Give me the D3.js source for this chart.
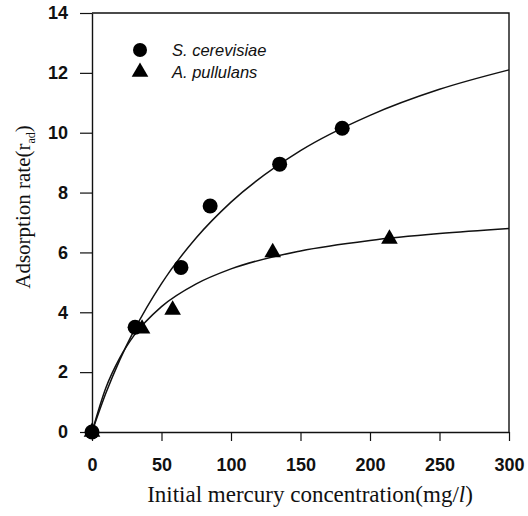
<!DOCTYPE html>
<html>
<head>
<meta charset="utf-8">
<script src="https://cdn.jsdelivr.net/npm/d3@7"></script>
<style>
  body { margin: 0; background: #fff; }
  svg { display: block; }
</style>
</head>
<body>
<div id="chart"></div>
<script>
// measured points
const cerevisiaeX = [0, 31, 64, 85, 135, 180];
const cerevisiaeY = [0, 3.5, 5.5, 7.55, 8.95, 10.15];
const pullulansX = [0, 36, 58, 130, 214];
const pullulansY = [0, 3.45, 4.08, 6.0, 6.45];

// fitted curves
const curveX = [0, 10, 20, 30, 50, 75, 100, 150, 200, 250, 300];
const cerevisiaeFit = [0, 1.3, 2.41, 3.37, 4.96, 6.49, 7.68, 9.4, 10.58, 11.45, 12.1];
const pullulansFit = [0, 1.48, 2.48, 3.21, 4.19, 4.95, 5.45, 6.05, 6.4, 6.63, 6.8];

const xTicks = [0, 50, 100, 150, 200, 250, 300];
const yTicks = [0, 2, 4, 6, 8, 10, 12, 14];
const legendNames = ['S. cerevisiae', 'A. pullulans'];

const width = 528;
const height = 516;
const margin = { top: 13, right: 19, bottom: 84, left: 92 };

const svg = d3.select('#chart').append('svg')
  .attr('width', width)
  .attr('height', height);

const x = d3.scaleLinear().domain([0, 300]).range([margin.left, width - margin.right]);
const y = d3.scaleLinear().domain([0, 14]).range([height - margin.bottom, margin.top]);

const tickFont = '"Liberation Sans", Arial, sans-serif';
const serif = '"Liberation Serif", "Times New Roman", serif';

// box: top and right sides without ticks
svg.append('path')
  .attr('d', `M${x(0)},${y(14)}H${x(300)}V${y(0)}`)
  .attr('fill', 'none')
  .attr('stroke', '#111')
  .attr('stroke-width', 1.4);

const xAxis = svg.append('g')
  .attr('transform', `translate(0,${y(0)})`)
  .call(d3.axisBottom(x).tickValues(xTicks).tickSize(9).tickPadding(17).tickSizeOuter(0));

const yAxis = svg.append('g')
  .attr('transform', `translate(${x(0)},0)`)
  .call(d3.axisLeft(y).tickValues(yTicks).tickSize(12).tickPadding(12).tickSizeOuter(0));

[xAxis, yAxis].forEach(a => {
  a.select('.domain').attr('stroke', '#111').attr('stroke-width', 1.4);
  a.selectAll('.tick line').attr('stroke', '#111').attr('stroke-width', 1.2);
  a.selectAll('.tick text')
    .attr('fill', '#111')
    .style('font-family', tickFont)
    .style('font-size', '18px')
    .style('font-weight', 'bold');
});

// fitted curves
const line = d3.line()
  .x(d => x(d[0]))
  .y(d => y(d[1]))
  .curve(d3.curveMonotoneX);

[cerevisiaeFit, pullulansFit].forEach(fit => {
  svg.append('path')
    .datum(curveX.map((v, i) => [v, fit[i]]))
    .attr('d', line)
    .attr('fill', 'none')
    .attr('stroke', '#111')
    .attr('stroke-width', 1.5);
});

const tri = d3.symbol().type(d3.symbolTriangle).size(120);

// markers
svg.selectAll('.tri')
  .data(pullulansX.map((v, i) => [v, pullulansY[i]]))
  .enter().append('path')
  .attr('class', 'tri')
  .attr('transform', d => `translate(${x(d[0])},${y(d[1])})`)
  .attr('d', tri)
  .attr('fill', '#000');

svg.selectAll('.dot')
  .data(cerevisiaeX.map((v, i) => [v, cerevisiaeY[i]]))
  .enter().append('circle')
  .attr('class', 'dot')
  .attr('cx', d => x(d[0]))
  .attr('cy', d => y(d[1]))
  .attr('r', 7.5)
  .attr('fill', '#000');

// legend
const legend = svg.append('g').attr('transform', 'translate(140,50)');
legend.append('circle').attr('r', 7).attr('fill', '#000');
legend.append('path').attr('transform', 'translate(0,22)').attr('d', tri).attr('fill', '#000');
legendNames.forEach((name, i) => {
  legend.append('text')
    .attr('x', 32)
    .attr('y', i * 22 + 6)
    .style('font-family', tickFont)
    .style('font-size', '16.5px')
    .style('font-style', 'italic')
    .attr('fill', '#111')
    .text(name);
});

// axis titles
const xTitle = svg.append('text')
  .attr('x', 310)
  .attr('y', 502)
  .attr('text-anchor', 'middle')
  .style('font-family', serif)
  .style('font-size', '23px')
  .attr('fill', '#111');
xTitle.append('tspan').text('Initial mercury concentration(mg/');
xTitle.append('tspan').style('font-style', 'italic').text('l');
xTitle.append('tspan').text(')');

const yTitle = svg.append('text')
  .attr('transform', 'translate(30,207) rotate(-90)')
  .attr('text-anchor', 'middle')
  .style('font-family', serif)
  .style('font-size', '21px')
  .attr('fill', '#111');
yTitle.append('tspan').text('Adsorption rate(r');
yTitle.append('tspan').attr('dy', 5).style('font-size', '12px').text('ad');
yTitle.append('tspan').attr('dy', -5).text(')');
</script>
</body>
</html>
